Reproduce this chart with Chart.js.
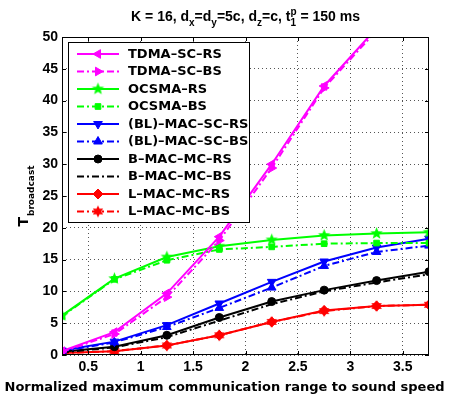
<!DOCTYPE html>
<html>
<head>
<meta charset="utf-8">
<script src="https://cdn.jsdelivr.net/npm/chart.js@4.4.1/dist/chart.umd.min.js"></script>
<style>
body { margin: 0; background: #fff; }
#wrap { width: 449px; height: 397px; }
</style>
</head>
<body>
<div id="wrap"><canvas id="c"></canvas></div>
<script>
// x: normalized max communication range / sound speed
var ranges = [0.25, 0.75, 1.25, 1.75, 2.25, 2.75, 3.25, 3.75];
var xTicks = [0.5, 1, 1.5, 2, 2.5, 3, 3.5];
var yTicks = [0, 5, 10, 15, 20, 25, 30, 35, 40, 45, 50];

var tdmaRS  = [0.6, 3.6, 9.7, 18.6, 30.0, 42.3, 51.4, 62.0];
var tdmaBS  = [0.5, 3.3, 9.1, 18.0, 29.4, 42.0, 51.0, 61.5];
var ocsmaRS = [6.2, 12.0, 15.4, 17.1, 18.1, 18.8, 19.1, 19.3];
var ocsmaBS = [6.1, 11.9, 14.9, 16.6, 17.0, 17.5, 17.6, 17.6];
var blRS    = [0.7, 2.1, 4.7, 8.1, 11.5, 14.7, 16.9, 18.3];
var blBS    = [0.6, 2.0, 4.4, 7.4, 10.6, 14.0, 16.2, 17.2];
var bRS     = [0.5, 1.3, 3.1, 5.9, 8.4, 10.2, 11.7, 13.1];
var bBS     = [0.4, 1.2, 2.8, 5.4, 8.0, 10.0, 11.4, 12.7];
var lRS     = [0.3, 0.6, 1.5, 3.1, 5.2, 7.0, 7.7, 7.9];
var lBS     = [0.3, 0.6, 1.5, 3.1, 5.2, 6.9, 7.7, 7.9];

var names = ['TDMA\u2013SC\u2013RS', 'TDMA\u2013SC\u2013BS', 'OCSMA\u2013RS', 'OCSMA\u2013BS',
  '(BL)\u2013MAC\u2013SC\u2013RS', '(BL)\u2013MAC\u2013SC\u2013BS', 'B\u2013MAC\u2013MC\u2013RS',
  'B\u2013MAC\u2013MC\u2013BS', 'L\u2013MAC\u2013MC\u2013RS', 'L\u2013MAC\u2013MC\u2013BS'];
var xTitle = 'Normalized maximum communication range to sound speed';

// star markers drawn on small canvases
function starMarker(color, n, outer, inner) {
  var s = Math.ceil(outer * 2 + 2);
  var cv = document.createElement('canvas');
  cv.width = s; cv.height = s;
  var g = cv.getContext('2d');
  g.beginPath();
  for (var i = 0; i < n * 2; i++) {
    var r = i % 2 ? inner : outer;
    var a = -Math.PI / 2 + i * Math.PI / n;
    var px = s / 2 + r * Math.cos(a), py = s / 2 + r * Math.sin(a);
    if (i == 0) g.moveTo(px, py); else g.lineTo(px, py);
  }
  g.closePath();
  g.fillStyle = color;
  g.fill();
  return cv;
}
var penta = starMarker('#00ff00', 5, 6.5, 2.8);
var hexa = starMarker('#ff0000', 6, 6, 3.2);

var dashDot = [7, 3, 2, 3];

function mk(name, vals, color, dash, style, rot, rad) {
  return {
    label: name,
    data: ranges.map(function(x, i) { return { x: x, y: vals[i] }; }),
    borderColor: color,
    backgroundColor: color,
    borderWidth: 2,
    borderDash: dash,
    pointStyle: style,
    pointRotation: rot,
    pointRadius: rad,
    pointBackgroundColor: color,
    pointBorderColor: color,
    pointBorderWidth: 1,
    tension: 0
  };
}

var datasets = [
  mk(names[0], tdmaRS, '#ff00ff', [], 'triangle', -90, 5),
  mk(names[1], tdmaBS, '#ff00ff', dashDot, 'triangle', 90, 5),
  mk(names[2], ocsmaRS, '#00ff00', [], penta, 0, 6),
  mk(names[3], ocsmaBS, '#00ff00', dashDot, 'rect', 0, 4),
  mk(names[4], blRS, '#0000ff', [], 'triangle', 180, 5),
  mk(names[5], blBS, '#0000ff', dashDot, 'triangle', 0, 5),
  mk(names[6], bRS, '#000000', [], 'circle', 0, 4),
  mk(names[7], bBS, '#000000', dashDot, 'circle', 0, 0),
  mk(names[8], lRS, '#ff0000', [], 'rectRot', 0, 5),
  mk(names[9], lBS, '#ff0000', dashDot, hexa, 0, 6)
];

var extras = {
  id: 'extras',
  afterDatasetsDraw: function(chart) {
    var ctx = chart.ctx, a = chart.chartArea;
    var xs = chart.scales.x, ys = chart.scales.y;
    ctx.save();
    ctx.strokeStyle = '#000';
    ctx.lineWidth = 1;
    ctx.setLineDash([]);
    ctx.strokeRect(a.left + 0.5, a.top + 0.5, a.right - a.left - 1, a.bottom - a.top - 1);
    ctx.beginPath();
    xTicks.forEach(function(v) {
      var px = Math.round(xs.getPixelForValue(v)) + 0.5;
      ctx.moveTo(px, a.bottom); ctx.lineTo(px, a.bottom - 4);
      ctx.moveTo(px, a.top); ctx.lineTo(px, a.top + 4);
    });
    yTicks.forEach(function(v) {
      var py = Math.round(ys.getPixelForValue(v)) + 0.5;
      ctx.moveTo(a.left, py); ctx.lineTo(a.left + 4, py);
      ctx.moveTo(a.right, py); ctx.lineTo(a.right - 4, py);
    });
    ctx.stroke();

    // legend box
    var bx = 68, by = 42, bw = 181, bh = 180;
    ctx.fillStyle = '#fff';
    ctx.fillRect(bx, by, bw, bh);
    ctx.strokeRect(bx + 0.5, by + 0.5, bw, bh);
    ctx.font = 'bold 13px "DejaVu Sans"';
    ctx.textBaseline = 'middle';
    ctx.textAlign = 'left';
    chart.data.datasets.forEach(function(ds, i) {
      var y = 54 + i * 17.5;
      ctx.strokeStyle = ds.borderColor;
      ctx.fillStyle = ds.borderColor;
      ctx.lineWidth = 2;
      ctx.setLineDash(ds.borderDash);
      ctx.beginPath();
      ctx.moveTo(77, y); ctx.lineTo(119, y);
      ctx.stroke();
      ctx.setLineDash([]);
      if (ds.pointRadius > 0) {
        ctx.lineWidth = 1;
        Chart.helpers.drawPoint(ctx, {
          pointStyle: ds.pointStyle, rotation: ds.pointRotation,
          radius: ds.pointRadius, borderWidth: 1
        }, 98, y);
      }
      ctx.fillStyle = '#000';
      ctx.fillText(ds.label, 128, y + 0.5);
    });
    ctx.restore();
  },
  afterDraw: function(chart) {
    var ctx = chart.ctx;
    var a = chart.chartArea;
    ctx.save();
    ctx.fillStyle = '#000';
    ctx.textBaseline = 'alphabetic';
    ctx.textAlign = 'left';
    // title with sub/superscripts
    var big = 'bold 14px "Liberation Sans"', small = 'bold 10px "Liberation Sans"';
    var parts = [
      ['K = 16, d', 0], ['x', 1], ['=d', 0], ['y', 1], ['=5c, d', 0], ['z', 1],
      ['=c, t', 0], ['1|p', 2], [' = 150 ms', 0]
    ];
    function w(p) {
      if (p[1] == 0) { ctx.font = big; return ctx.measureText(p[0]).width; }
      ctx.font = small;
      var s = p[0].split('|');
      return Math.max.apply(null, s.map(function(t) { return ctx.measureText(t).width; }));
    }
    var total = 0;
    parts.forEach(function(p) { total += w(p); });
    var x = (a.left + a.right) / 2 - total / 2, base = 20.5;
    parts.forEach(function(p) {
      var pw = w(p);
      if (p[1] == 0) { ctx.font = big; ctx.fillText(p[0], x, base); }
      else if (p[1] == 1) { ctx.font = small; ctx.fillText(p[0], x, base + 5); }
      else {
        var s = p[0].split('|');
        ctx.font = small;
        ctx.fillText(s[0], x, base + 5.5);
        ctx.fillText(s[1], x, base - 6);
      }
      x += pw;
    });

    // x axis title
    ctx.font = 'bold 13px "DejaVu Sans"';
    ctx.textAlign = 'center';
    ctx.fillText(xTitle, chart.width / 2, 391);
    ctx.textAlign = 'left';

    // y axis label T_broadcast
    ctx.font = 'bold 14px "DejaVu Sans"';
    var tw = ctx.measureText('T').width;
    ctx.font = 'bold 9px "DejaVu Sans"';
    var sw = ctx.measureText('broadcast').width;
    var cy = (a.top + a.bottom) / 2;
    ctx.translate(28, cy + (tw + sw + 1) / 2);
    ctx.rotate(-Math.PI / 2);
    ctx.font = 'bold 14px "DejaVu Sans"';
    ctx.fillText('T', 0, 0);
    ctx.font = 'bold 9px "DejaVu Sans"';
    ctx.fillText('broadcast', tw + 1, 6);
    ctx.restore();
  }
};

var tickFont = { family: '"Liberation Sans", Arial', size: 14, weight: 'bold' };

new Chart(document.getElementById('c'), {
  type: 'line',
  data: { datasets: datasets },
  options: {
    responsive: true,
    maintainAspectRatio: false,
    animation: false,
    layout: { padding: { left: 0, right: 20, top: 37, bottom: 0 } },
    plugins: { legend: { display: false }, tooltip: { enabled: false }, title: { display: false } },
    scales: {
      x: {
        type: 'linear',
        min: 0.25, max: 3.75,
        afterBuildTicks: function(s) { s.ticks = xTicks.map(function(v) { return { value: v }; }); },
        afterFit: function(s) { s.height = 42; },
        grid: { color: '#555', drawTicks: false },
        border: { display: false, dash: [1, 3] },
        ticks: { font: tickFont, color: '#000', padding: 4, maxRotation: 0,
          callback: function(v) { return String(v); } }
      },
      y: {
        min: 0, max: 50,
        afterBuildTicks: function(s) { s.ticks = yTicks.map(function(v) { return { value: v }; }); },
        afterFit: function(s) { s.width = 62; },
        grid: { color: '#555', drawTicks: false },
        border: { display: false, dash: [1, 3] },
        ticks: { font: tickFont, color: '#000', padding: 4 }
      }
    }
  },
  plugins: [extras]
});
</script>
</body>
</html>
